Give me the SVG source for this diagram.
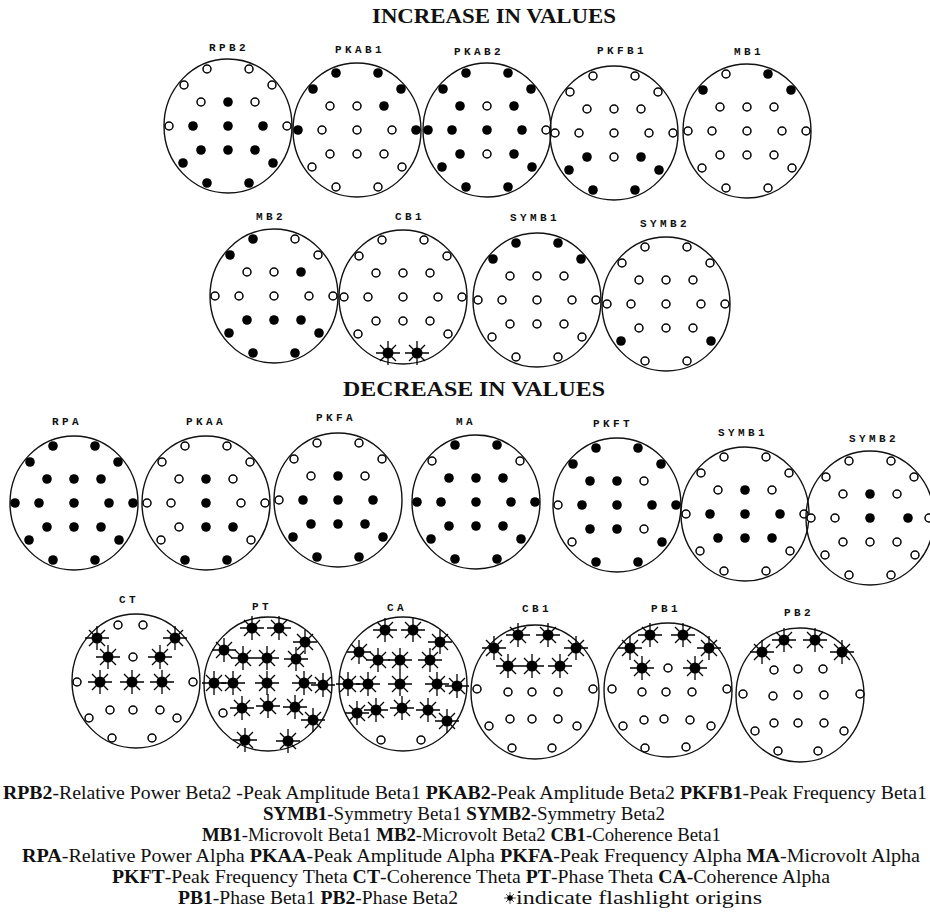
<svg xmlns="http://www.w3.org/2000/svg" width="930" height="917" viewBox="0 0 930 917">
<style>
.hd{fill:none;stroke:#111;stroke-width:1.4}
.lb{font-family:"Liberation Mono",monospace;font-weight:bold;font-size:11px;letter-spacing:3.4px;text-anchor:middle;fill:#111}
.ttl{font-family:"Liberation Serif","Times New Roman",serif;font-weight:bold;font-size:20px;fill:#111}
.lg{font-family:"Liberation Serif","Times New Roman",serif;font-size:19px;fill:#111}
.lg tspan.b{font-weight:bold}
</style>
<defs>
<circle id="f" r="4.8" fill="#000"/>
<circle id="o" r="4" fill="#fff" stroke="#000" stroke-width="1.5"/>
<g id="s"><circle r="5.5" fill="#000"/><path d="M-12 0H12M0-12V12M-8-8L8 8M-8 8L8-8" stroke="#000" stroke-width="1.3"/></g>
</defs>
<rect width="930" height="917" fill="#fff"/>
<text class="ttl" x="372" y="23" textLength="244" lengthAdjust="spacingAndGlyphs">INCREASE IN VALUES</text>
<text class="ttl" x="343" y="396" textLength="262" lengthAdjust="spacingAndGlyphs">DECREASE IN VALUES</text>

<g id="RPB2" transform="translate(228,126)"><ellipse class="hd" rx="64" ry="67"/><text class="lb" x="1" y="-75">RPB2</text>
<use href="#o" x="-21" y="-57"/><use href="#o" x="21" y="-57"/><use href="#o" x="-44" y="-41"/><use href="#o" x="-27" y="-24"/><use href="#f" x="0" y="-24"/><use href="#o" x="27" y="-24"/><use href="#o" x="44" y="-41"/>
<use href="#o" x="-59" y="0"/><use href="#f" x="-35" y="0"/><use href="#f" x="0" y="0"/><use href="#f" x="35" y="0"/><use href="#o" x="59" y="0"/>
<use href="#f" x="-45" y="37"/><use href="#f" x="-27" y="24"/><use href="#f" x="0" y="24"/><use href="#f" x="27" y="24"/><use href="#f" x="45" y="37"/><use href="#f" x="-21" y="57"/><use href="#f" x="21" y="57"/></g>

<g id="PKAB1" transform="translate(357,130)"><ellipse class="hd" rx="64" ry="67"/><text class="lb" x="3" y="-77">PKAB1</text>
<use href="#f" x="-21" y="-57"/><use href="#f" x="21" y="-57"/><use href="#f" x="-44" y="-41"/><use href="#o" x="-27" y="-24"/><use href="#o" x="0" y="-24"/><use href="#f" x="27" y="-24"/><use href="#f" x="44" y="-41"/>
<use href="#f" x="-59" y="0"/><use href="#o" x="-35" y="0"/><use href="#o" x="0" y="0"/><use href="#o" x="35" y="0"/><use href="#f" x="59" y="0"/>
<use href="#o" x="-45" y="37"/><use href="#o" x="-27" y="24"/><use href="#o" x="0" y="24"/><use href="#o" x="27" y="24"/><use href="#o" x="45" y="37"/><use href="#o" x="-21" y="57"/><use href="#o" x="21" y="57"/></g>

<g id="PKAB2" transform="translate(487,130)"><ellipse class="hd" rx="64" ry="67"/><text class="lb" x="-8" y="-75">PKAB2</text>
<use href="#f" x="-21" y="-57"/><use href="#f" x="21" y="-57"/><use href="#f" x="-44" y="-41"/><use href="#f" x="-27" y="-24"/><use href="#o" x="0" y="-24"/><use href="#f" x="27" y="-24"/><use href="#f" x="44" y="-41"/>
<use href="#f" x="-59" y="0"/><use href="#f" x="-35" y="0"/><use href="#f" x="0" y="0"/><use href="#f" x="35" y="0"/><use href="#o" x="59" y="0"/>
<use href="#f" x="-45" y="37"/><use href="#f" x="-27" y="24"/><use href="#o" x="0" y="24"/><use href="#f" x="27" y="24"/><use href="#f" x="45" y="37"/><use href="#f" x="-21" y="57"/><use href="#f" x="21" y="57"/></g>

<g id="PKFB1" transform="translate(614,133)"><ellipse class="hd" rx="64" ry="67"/><text class="lb" x="8" y="-79">PKFB1</text>
<use href="#o" x="-21" y="-57"/><use href="#o" x="21" y="-57"/><use href="#o" x="-44" y="-41"/><use href="#o" x="-27" y="-24"/><use href="#o" x="0" y="-24"/><use href="#o" x="27" y="-24"/><use href="#o" x="44" y="-41"/>
<use href="#o" x="-59" y="0"/><use href="#o" x="-35" y="0"/><use href="#o" x="0" y="0"/><use href="#o" x="35" y="0"/><use href="#o" x="59" y="0"/>
<use href="#f" x="-45" y="37"/><use href="#f" x="-27" y="24"/><use href="#o" x="0" y="24"/><use href="#f" x="27" y="24"/><use href="#f" x="45" y="37"/><use href="#f" x="-21" y="57"/><use href="#f" x="21" y="57"/></g>

<g id="MB1" transform="translate(747,131)"><ellipse class="hd" rx="64" ry="67"/><text class="lb" x="2" y="-76">MB1</text>
<use href="#o" x="-21" y="-57"/><use href="#f" x="21" y="-57"/><use href="#f" x="-44" y="-41"/><use href="#o" x="-27" y="-24"/><use href="#o" x="0" y="-24"/><use href="#o" x="27" y="-24"/><use href="#f" x="44" y="-41"/>
<use href="#o" x="-59" y="0"/><use href="#o" x="-35" y="0"/><use href="#o" x="0" y="0"/><use href="#o" x="35" y="0"/><use href="#o" x="59" y="0"/>
<use href="#o" x="-45" y="37"/><use href="#o" x="-27" y="24"/><use href="#o" x="0" y="24"/><use href="#o" x="27" y="24"/><use href="#o" x="45" y="37"/><use href="#o" x="-21" y="57"/><use href="#o" x="21" y="57"/></g>

<g id="MB2" transform="translate(274,296)"><ellipse class="hd" rx="64" ry="67"/><text class="lb" x="-3" y="-76">MB2</text>
<use href="#f" x="-21" y="-57"/><use href="#o" x="21" y="-57"/><use href="#f" x="-44" y="-41"/><use href="#o" x="-27" y="-24"/><use href="#o" x="0" y="-24"/><use href="#f" x="27" y="-24"/><use href="#o" x="44" y="-41"/>
<use href="#o" x="-59" y="0"/><use href="#o" x="-35" y="0"/><use href="#o" x="0" y="0"/><use href="#o" x="35" y="0"/><use href="#o" x="59" y="0"/>
<use href="#f" x="-45" y="37"/><use href="#f" x="-27" y="24"/><use href="#f" x="0" y="24"/><use href="#f" x="27" y="24"/><use href="#f" x="45" y="37"/><use href="#f" x="-21" y="57"/><use href="#f" x="21" y="57"/></g>

<g id="CB1-inc" transform="translate(403,297)"><ellipse class="hd" rx="64" ry="67"/><text class="lb" x="7" y="-77">CB1</text>
<use href="#o" x="-21" y="-57"/><use href="#o" x="21" y="-57"/><use href="#o" x="-44" y="-41"/><use href="#o" x="-27" y="-24"/><use href="#o" x="0" y="-24"/><use href="#o" x="27" y="-24"/><use href="#o" x="44" y="-41"/>
<use href="#o" x="-59" y="0"/><use href="#o" x="-35" y="0"/><use href="#o" x="0" y="0"/><use href="#o" x="35" y="0"/><use href="#o" x="59" y="0"/>
<use href="#o" x="-45" y="37"/><use href="#o" x="-27" y="24"/><use href="#o" x="0" y="24"/><use href="#o" x="27" y="24"/><use href="#o" x="45" y="37"/><use href="#s" x="-15" y="56"/><use href="#s" x="14" y="56"/></g>

<g id="SYMB1-inc" transform="translate(537,300)"><ellipse class="hd" rx="64" ry="67"/><text class="lb" x="-2" y="-79">SYMB1</text>
<use href="#f" x="-21" y="-57"/><use href="#f" x="21" y="-57"/><use href="#f" x="-44" y="-41"/><use href="#o" x="-27" y="-24"/><use href="#o" x="0" y="-24"/><use href="#o" x="27" y="-24"/><use href="#f" x="44" y="-41"/>
<use href="#o" x="-59" y="0"/><use href="#o" x="-35" y="0"/><use href="#o" x="0" y="0"/><use href="#o" x="35" y="0"/><use href="#o" x="59" y="0"/>
<use href="#o" x="-45" y="37"/><use href="#o" x="-27" y="24"/><use href="#o" x="0" y="24"/><use href="#o" x="27" y="24"/><use href="#o" x="45" y="37"/><use href="#o" x="-21" y="57"/><use href="#o" x="21" y="57"/></g>

<g id="SYMB2-inc" transform="translate(666,304)"><ellipse class="hd" rx="64" ry="67"/><text class="lb" x="-1" y="-77">SYMB2</text>
<use href="#o" x="-21" y="-57"/><use href="#o" x="21" y="-57"/><use href="#o" x="-44" y="-41"/><use href="#o" x="-27" y="-24"/><use href="#o" x="0" y="-24"/><use href="#o" x="27" y="-24"/><use href="#o" x="44" y="-41"/>
<use href="#o" x="-59" y="0"/><use href="#o" x="-35" y="0"/><use href="#o" x="0" y="0"/><use href="#o" x="35" y="0"/><use href="#o" x="59" y="0"/>
<use href="#f" x="-45" y="37"/><use href="#o" x="-27" y="24"/><use href="#o" x="0" y="24"/><use href="#o" x="27" y="24"/><use href="#f" x="45" y="37"/><use href="#o" x="-21" y="57"/><use href="#o" x="21" y="57"/></g>

<g id="RPA" transform="translate(74,503)"><ellipse class="hd" rx="64" ry="67"/><text class="lb" x="-7" y="-78">RPA</text>
<use href="#f" x="-21" y="-57"/><use href="#f" x="21" y="-57"/><use href="#f" x="-44" y="-41"/><use href="#f" x="-27" y="-24"/><use href="#f" x="0" y="-24"/><use href="#f" x="27" y="-24"/><use href="#f" x="44" y="-41"/>
<use href="#f" x="-59" y="0"/><use href="#f" x="-35" y="0"/><use href="#f" x="0" y="0"/><use href="#f" x="35" y="0"/><use href="#f" x="59" y="0"/>
<use href="#f" x="-45" y="37"/><use href="#f" x="-27" y="24"/><use href="#f" x="0" y="24"/><use href="#f" x="27" y="24"/><use href="#f" x="45" y="37"/><use href="#f" x="-21" y="57"/><use href="#f" x="21" y="57"/></g>

<g id="PKAA" transform="translate(206,503)"><ellipse class="hd" rx="64" ry="67"/><text class="lb" x="0" y="-78">PKAA</text>
<use href="#o" x="-21" y="-57"/><use href="#o" x="21" y="-57"/><use href="#o" x="-44" y="-41"/><use href="#o" x="-27" y="-24"/><use href="#f" x="0" y="-24"/><use href="#o" x="27" y="-24"/><use href="#o" x="44" y="-41"/>
<use href="#o" x="-59" y="0"/><use href="#o" x="-35" y="0"/><use href="#f" x="0" y="0"/><use href="#o" x="35" y="0"/><use href="#o" x="59" y="0"/>
<use href="#o" x="-45" y="37"/><use href="#o" x="-27" y="24"/><use href="#f" x="0" y="24"/><use href="#f" x="27" y="24"/><use href="#o" x="45" y="37"/><use href="#f" x="-21" y="57"/><use href="#f" x="21" y="57"/></g>

<g id="PKFA" transform="translate(338,500)"><ellipse class="hd" rx="64" ry="67"/><text class="lb" x="-2" y="-79">PKFA</text>
<use href="#o" x="-21" y="-57"/><use href="#o" x="21" y="-57"/><use href="#o" x="-44" y="-41"/><use href="#o" x="-27" y="-24"/><use href="#f" x="0" y="-24"/><use href="#o" x="27" y="-24"/><use href="#o" x="44" y="-41"/>
<use href="#o" x="-59" y="0"/><use href="#f" x="-35" y="0"/><use href="#f" x="0" y="0"/><use href="#f" x="35" y="0"/>
<use href="#f" x="-45" y="37"/><use href="#f" x="-27" y="24"/><use href="#f" x="0" y="24"/><use href="#f" x="27" y="24"/><use href="#f" x="45" y="37"/><use href="#f" x="-21" y="57"/><use href="#f" x="21" y="57"/></g>

<g id="MA" transform="translate(476,502)"><ellipse class="hd" rx="64" ry="67"/><text class="lb" x="-10" y="-77">MA</text>
<use href="#f" x="-21" y="-57"/><use href="#f" x="21" y="-57"/><use href="#o" x="-44" y="-41"/><use href="#f" x="-27" y="-24"/><use href="#f" x="0" y="-24"/><use href="#f" x="27" y="-24"/><use href="#o" x="44" y="-41"/>
<use href="#f" x="-59" y="0"/><use href="#f" x="-35" y="0"/><use href="#f" x="0" y="0"/><use href="#f" x="35" y="0"/><use href="#f" x="59" y="0"/>
<use href="#f" x="-45" y="37"/><use href="#f" x="-27" y="24"/><use href="#f" x="0" y="24"/><use href="#f" x="27" y="24"/><use href="#f" x="45" y="37"/><use href="#f" x="-21" y="57"/><use href="#f" x="21" y="57"/></g>

<g id="PKFT" transform="translate(617,505)"><ellipse class="hd" rx="64" ry="67"/><text class="lb" x="-4" y="-78">PKFT</text>
<use href="#f" x="-21" y="-57"/><use href="#f" x="21" y="-57"/><use href="#f" x="-44" y="-41"/><use href="#f" x="-27" y="-24"/><use href="#f" x="0" y="-24"/><use href="#o" x="27" y="-24"/><use href="#f" x="44" y="-41"/>
<use href="#o" x="-59" y="0"/><use href="#f" x="-35" y="0"/><use href="#f" x="0" y="0"/><use href="#f" x="35" y="0"/><use href="#f" x="59" y="0"/>
<use href="#o" x="-45" y="37"/><use href="#f" x="-27" y="24"/><use href="#f" x="0" y="24"/><use href="#o" x="27" y="24"/><use href="#f" x="45" y="37"/><use href="#f" x="-21" y="57"/><use href="#f" x="21" y="57"/></g>

<g id="SYMB1-dec" transform="translate(745,514)"><ellipse class="hd" rx="64" ry="67"/><text class="lb" x="-2" y="-78">SYMB1</text>
<use href="#o" x="-21" y="-57"/><use href="#o" x="21" y="-57"/><use href="#o" x="-44" y="-41"/><use href="#o" x="-27" y="-24"/><use href="#f" x="0" y="-24"/><use href="#o" x="27" y="-24"/><use href="#o" x="44" y="-41"/>
<use href="#o" x="-59" y="0"/><use href="#f" x="-35" y="0"/><use href="#f" x="0" y="0"/><use href="#f" x="35" y="0"/><use href="#o" x="59" y="0"/>
<use href="#o" x="-45" y="37"/><use href="#f" x="-27" y="24"/><use href="#f" x="0" y="24"/><use href="#f" x="27" y="24"/><use href="#o" x="45" y="37"/><use href="#o" x="-21" y="57"/><use href="#o" x="21" y="57"/></g>

<g id="SYMB2-dec" transform="translate(870,518)"><ellipse class="hd" rx="64" ry="67"/><text class="lb" x="4" y="-76">SYMB2</text>
<use href="#o" x="-21" y="-57"/><use href="#o" x="21" y="-57"/><use href="#o" x="-44" y="-41"/><use href="#o" x="-27" y="-24"/><use href="#f" x="0" y="-24"/><use href="#o" x="27" y="-24"/><use href="#o" x="44" y="-41"/>
<use href="#o" x="-59" y="0"/><use href="#o" x="-35" y="0"/><use href="#f" x="0" y="0"/><use href="#f" x="38" y="0"/><use href="#o" x="59" y="0"/>
<use href="#o" x="-45" y="37"/><use href="#o" x="-27" y="24"/><use href="#o" x="0" y="24"/><use href="#o" x="27" y="24"/><use href="#o" x="45" y="37"/><use href="#o" x="-21" y="57"/><use href="#o" x="21" y="57"/></g>

<g id="CT" transform="translate(136,681)"><ellipse class="hd" rx="64" ry="67"/><text class="lb" x="-7" y="-78">CT</text>
<use href="#o" x="-18" y="-56"/><use href="#o" x="7" y="-56"/><use href="#s" x="-39" y="-43"/><use href="#s" x="-28" y="-24"/><use href="#o" x="-3" y="-24"/><use href="#s" x="24" y="-24"/><use href="#s" x="39" y="-43"/>
<use href="#o" x="-59" y="1"/><use href="#s" x="-36" y="1"/><use href="#s" x="-4" y="1"/><use href="#s" x="26" y="1"/><use href="#o" x="57" y="1"/>
<use href="#o" x="-47" y="37"/><use href="#o" x="-26" y="29"/><use href="#o" x="-3" y="29"/><use href="#o" x="24" y="29"/><use href="#o" x="41" y="37"/><use href="#o" x="-24" y="57"/><use href="#o" x="16" y="57"/></g>

<g id="PT" transform="translate(268,684)"><ellipse class="hd" rx="64" ry="67"/><text class="lb" x="-6" y="-74">PT</text>
<use href="#s" x="-16" y="-56"/><use href="#s" x="11" y="-56"/><use href="#s" x="-44" y="-34"/><use href="#s" x="-25" y="-26"/><use href="#s" x="-1" y="-26"/><use href="#s" x="28" y="-25"/><use href="#s" x="37" y="-42"/>
<use href="#s" x="-54" y="-1"/><use href="#s" x="-35" y="-1"/><use href="#s" x="-1" y="-1"/><use href="#s" x="36" y="-1"/><use href="#s" x="55" y="1"/>
<use href="#o" x="-45" y="29"/><use href="#s" x="-26" y="24"/><use href="#s" x="0" y="22"/><use href="#s" x="27" y="23"/><use href="#s" x="45" y="36"/><use href="#s" x="-23" y="56"/><use href="#s" x="20" y="57"/></g>

<g id="CA" transform="translate(403,684)"><ellipse class="hd" rx="64" ry="67"/><text class="lb" x="-6" y="-73">CA</text>
<use href="#s" x="-18" y="-54"/><use href="#s" x="10" y="-54"/><use href="#s" x="-44" y="-32"/><use href="#s" x="-25" y="-24"/><use href="#s" x="-3" y="-24"/><use href="#s" x="27" y="-24"/><use href="#s" x="37" y="-42"/>
<use href="#s" x="-55" y="0"/><use href="#s" x="-35" y="0"/><use href="#s" x="-3" y="0"/><use href="#s" x="34" y="0"/><use href="#s" x="54" y="2"/>
<use href="#s" x="-46" y="29"/><use href="#s" x="-27" y="26"/><use href="#s" x="-1" y="24"/><use href="#s" x="25" y="26"/><use href="#s" x="44" y="37"/><use href="#o" x="-22" y="56"/><use href="#o" x="18" y="56"/></g>

<g id="CB1-dec" transform="translate(535,692)"><ellipse class="hd" rx="64" ry="67"/><text class="lb" x="2" y="-80">CB1</text>
<use href="#s" x="-17" y="-57"/><use href="#s" x="13" y="-57"/><use href="#s" x="-41" y="-44"/><use href="#s" x="-27" y="-26"/><use href="#s" x="-3" y="-26"/><use href="#s" x="25" y="-26"/><use href="#s" x="41" y="-44"/>
<use href="#o" x="-58" y="-3"/><use href="#o" x="-27" y="0"/><use href="#o" x="-3" y="0"/><use href="#o" x="23" y="0"/><use href="#o" x="58" y="-3"/>
<use href="#o" x="-46" y="34"/><use href="#o" x="-25" y="27"/><use href="#o" x="-3" y="27"/><use href="#o" x="23" y="27"/><use href="#o" x="42" y="34"/><use href="#o" x="-23" y="56"/><use href="#o" x="17" y="56"/></g>

<g id="PB1" transform="translate(668,690)"><ellipse class="hd" rx="64" ry="67"/><text class="lb" x="-2" y="-78">PB1</text>
<use href="#s" x="-18" y="-55"/><use href="#s" x="15" y="-55"/><use href="#s" x="-38" y="-42"/><use href="#s" x="-26" y="-22"/><use href="#o" x="0" y="-22"/><use href="#s" x="27" y="-22"/><use href="#s" x="41" y="-42"/>
<use href="#o" x="-56" y="-1"/><use href="#o" x="-26" y="2"/><use href="#o" x="-2" y="2"/><use href="#o" x="24" y="2"/><use href="#o" x="59" y="-1"/>
<use href="#o" x="-45" y="36"/><use href="#o" x="-24" y="30"/><use href="#o" x="-4" y="29"/><use href="#o" x="22" y="30"/><use href="#o" x="43" y="36"/><use href="#o" x="-23" y="58"/><use href="#o" x="18" y="57"/></g>

<g id="PB2" transform="translate(800,695)"><ellipse class="hd" rx="64" ry="67"/><text class="lb" x="-1" y="-79">PB2</text>
<use href="#s" x="-16" y="-55"/><use href="#s" x="15" y="-55"/><use href="#s" x="-38" y="-43"/><use href="#o" x="-26" y="-25"/><use href="#o" x="-2" y="-26"/><use href="#o" x="23" y="-26"/><use href="#s" x="42" y="-43"/>
<use href="#o" x="-57" y="-1"/><use href="#o" x="-27" y="1"/><use href="#o" x="-2" y="0"/><use href="#o" x="24" y="0"/><use href="#o" x="60" y="-1"/>
<use href="#o" x="-45" y="36"/><use href="#o" x="-26" y="28"/><use href="#o" x="-2" y="28"/><use href="#o" x="24" y="28"/><use href="#o" x="44" y="36"/><use href="#o" x="-22" y="56"/><use href="#o" x="18" y="56"/></g>

<g id="legend">
<text class="lg" x="3" y="799" textLength="924" lengthAdjust="spacingAndGlyphs"><tspan class="b">RPB2</tspan>-Relative Power Beta2 -Peak Amplitude Beta1 <tspan class="b">PKAB2</tspan>-Peak Amplitude Beta2 <tspan class="b">PKFB1</tspan>-Peak Frequency Beta1</text>
<text class="lg" x="263" y="820" textLength="402" lengthAdjust="spacingAndGlyphs"><tspan class="b">SYMB1</tspan>-Symmetry Beta1 <tspan class="b">SYMB2</tspan>-Symmetry Beta2</text>
<text class="lg" x="202" y="841" textLength="519" lengthAdjust="spacingAndGlyphs"><tspan class="b">MB1</tspan>-Microvolt Beta1 <tspan class="b">MB2</tspan>-Microvolt Beta2 <tspan class="b">CB1</tspan>-Coherence Beta1</text>
<text class="lg" x="22" y="862" textLength="898" lengthAdjust="spacingAndGlyphs"><tspan class="b">RPA</tspan>-Relative Power Alpha <tspan class="b">PKAA</tspan>-Peak Amplitude Alpha <tspan class="b">PKFA</tspan>-Peak Frequency Alpha <tspan class="b">MA</tspan>-Microvolt Alpha</text>
<text class="lg" x="112" y="883" textLength="718" lengthAdjust="spacingAndGlyphs"><tspan class="b">PKFT</tspan>-Peak Frequency Theta <tspan class="b">CT</tspan>-Coherence Theta <tspan class="b">PT</tspan>-Phase Theta <tspan class="b">CA</tspan>-Coherence Alpha</text>
<text class="lg" x="178" y="904" textLength="280" lengthAdjust="spacingAndGlyphs"><tspan class="b">PB1</tspan>-Phase Beta1 <tspan class="b">PB2</tspan>-Phase Beta2</text>
<use href="#s" transform="translate(510,898) scale(0.5)"/>
<text class="lg" x="516" y="904" textLength="246" lengthAdjust="spacingAndGlyphs">indicate flashlight origins</text>
</g>
</svg>
